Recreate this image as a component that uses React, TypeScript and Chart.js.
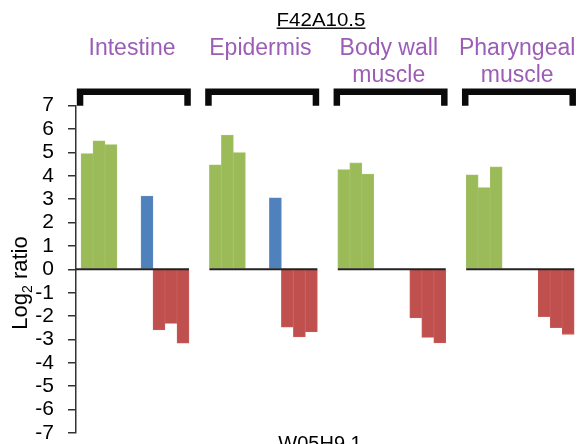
import React, { useEffect, useRef } from "react";
import { Chart, registerables } from "chart.js";

Chart.register(...registerables);

// ---- data ----
const tissues: string[][] = [["Intestine"], ["Epidermis"], ["Body wall", "muscle"], ["Pharyngeal", "muscle"]];
const upValues: number[][] = [
  [4.95, 5.5, 5.34],
  [4.47, 5.74, 5.0],
  [4.27, 4.56, 4.07],
  [4.04, 3.5, 4.38],
];
const controlValues: (number | null)[] = [3.13, 3.06, null, null];
const downValues: number[][] = [
  [-2.59, -2.31, -3.16],
  [-2.47, -2.89, -2.68],
  [-2.08, -2.91, -3.15],
  [-2.02, -2.49, -2.78],
];
const yMin = -7;
const yMax = 7;
const topGene = "F42A10.5";
const bottomGene = "W05H9.1";
const yTitleParts = ["Log", "2", " ratio"];

// ---- layout of slots within each tissue group ----
const GROUP_STEP = 10.7;
const UP_SLOTS = [0, 1, 2];
const CONTROL_SLOT = 5;
const DOWN_SLOTS = [6, 7, 8];
const GROUP_SLOTS = 9;

const FONT = "'Liberation Sans', Arial, Helvetica, sans-serif";
const GREEN = "#9BBB59";
const BLUE = "#4F81BD";
const RED = "#C0504D";
const PURPLE = "#9B5DB5";

const decorPlugin = {
  id: "decor",
  afterDraw(chart: any) {
    const { ctx, chartArea, scales } = chart;
    const x = scales.x;
    const y = scales.y;
    const y0 = y.getPixelForValue(0);
    ctx.save();

    // zero lines per group
    ctx.strokeStyle = "#222";
    ctx.lineWidth = 2;
    tissues.forEach((_, g) => {
      const start = g * GROUP_STEP;
      const left = g === 0 ? chartArea.left : x.getPixelForValue(start - 0.5);
      const right = x.getPixelForValue(start + GROUP_SLOTS - 0.5);
      ctx.beginPath();
      ctx.moveTo(left, y0);
      ctx.lineTo(right, y0);
      ctx.stroke();
    });

    // brackets
    ctx.strokeStyle = "#0a0a0a";
    ctx.lineWidth = 6.5;
    ctx.lineJoin = "miter";
    ctx.lineCap = "butt";
    const bTop = chartArea.top - 14;
    const bBottom = chartArea.top;
    tissues.forEach((_, g) => {
      const start = g * GROUP_STEP;
      const left = x.getPixelForValue(start - 0.5 - 0.35) + 3.25;
      const right = x.getPixelForValue(start + GROUP_SLOTS - 0.5 + 0.15) - 3.25;
      ctx.beginPath();
      ctx.moveTo(left, bBottom);
      ctx.lineTo(left, bTop);
      ctx.lineTo(right, bTop);
      ctx.lineTo(right, bBottom);
      ctx.stroke();
    });

    // tissue labels
    ctx.fillStyle = PURPLE;
    ctx.font = `23px ${FONT}`;
    ctx.textAlign = "center";
    ctx.textBaseline = "alphabetic";
    tissues.forEach((lines, g) => {
      const start = g * GROUP_STEP;
      const cx =
        (x.getPixelForValue(start - 0.5) + x.getPixelForValue(start + GROUP_SLOTS - 0.5)) / 2 - 3;
      lines.forEach((line, i) => {
        ctx.fillText(line, cx, 54.5 + i * 27);
      });
    });

    // top gene name (underlined)
    ctx.fillStyle = "#000";
    ctx.save();
    ctx.translate(321, 25.7);
    ctx.scale(1.17, 1);
    ctx.font = `17.5px ${FONT}`;
    ctx.textAlign = "center";
    ctx.fillText(topGene, 0, 0);
    const w = ctx.measureText(topGene).width;
    ctx.fillRect(-w / 2, 1.8, w, 1.4);
    ctx.restore();

    // bottom gene name (cut off at the edge)
    ctx.font = `20px ${FONT}`;
    ctx.textAlign = "center";
    ctx.fillText(bottomGene, 320, 450);

    // y axis title with subscript
    ctx.save();
    ctx.translate(27, 283);
    ctx.rotate(-Math.PI / 2);
    ctx.textAlign = "left";
    ctx.font = `22px ${FONT}`;
    const w1 = ctx.measureText(yTitleParts[0]).width;
    const w3 = ctx.measureText(yTitleParts[2]).width;
    ctx.font = `14px ${FONT}`;
    const w2 = ctx.measureText(yTitleParts[1]).width;
    let pos = -(w1 + w2 + w3) / 2;
    ctx.font = `22px ${FONT}`;
    ctx.fillText(yTitleParts[0], pos, 0);
    pos += w1;
    ctx.font = `14px ${FONT}`;
    ctx.fillText(yTitleParts[1], pos, 5);
    pos += w2;
    ctx.font = `22px ${FONT}`;
    ctx.fillText(yTitleParts[2], pos, 0);
    ctx.restore();

    ctx.restore();
  },
};

export default function App() {
  const canvasRef = useRef<HTMLCanvasElement | null>(null);

  useEffect(() => {
    if (!canvasRef.current) return;

    const greenData = upValues.flatMap((vals, g) =>
      vals.map((v, i) => ({ x: g * GROUP_STEP + UP_SLOTS[i], y: v }))
    );
    const blueData = controlValues
      .map((v, g) => (v == null ? null : { x: g * GROUP_STEP + CONTROL_SLOT, y: v }))
      .filter((p) => p !== null);
    const redData = downValues.flatMap((vals, g) =>
      vals.map((v, i) => ({ x: g * GROUP_STEP + DOWN_SLOTS[i], y: v }))
    );

    const chart = new Chart(canvasRef.current, {
      type: "bar",
      data: {
        datasets: [
          { data: greenData as any, backgroundColor: GREEN, borderColor: "#A4C268", borderWidth: 0.8 },
          { data: blueData as any, backgroundColor: BLUE, borderColor: "#5E8BC2", borderWidth: 0.8 },
          { data: redData as any, backgroundColor: RED, borderColor: "#C85E5B", borderWidth: 0.8 },
        ],
      },
      options: {
        animation: false,
        responsive: false,
        layout: { padding: { top: 105.7, bottom: 11, left: 0, right: 0 } },
        plugins: { legend: { display: false }, tooltip: { enabled: false }, title: { display: false } },
        datasets: { bar: { grouped: false, barPercentage: 1, categoryPercentage: 1 } } as any,
        scales: {
          x: {
            type: "linear",
            display: false,
            min: -0.917,
            max: 40.92,
            offset: false,
          },
          y: {
            min: yMin,
            max: yMax,
            ticks: {
              stepSize: 1,
              autoSkip: false,
              color: "#000",
              font: { family: FONT, size: 21 },
              padding: 14,
            },
            grid: {
              drawOnChartArea: false,
              drawTicks: true,
              tickLength: 8,
              color: "#333",
              lineWidth: 1.5,
            },
            border: { display: true, color: "#333", width: 1.5 },
            afterFit: (s: any) => {
              s.width = 76;
              s.paddingTop = 0;
              s.paddingBottom = 0;
            },
          },
        },
      },
      plugins: [decorPlugin],
    });

    return () => chart.destroy();
  }, []);

  return (
    <div style={{ position: "absolute", left: 0, top: 0, width: 578, height: 444, background: "#fff" }}>
      <canvas ref={canvasRef} width={578} height={444} style={{ display: "block" }} />
    </div>
  );
}
